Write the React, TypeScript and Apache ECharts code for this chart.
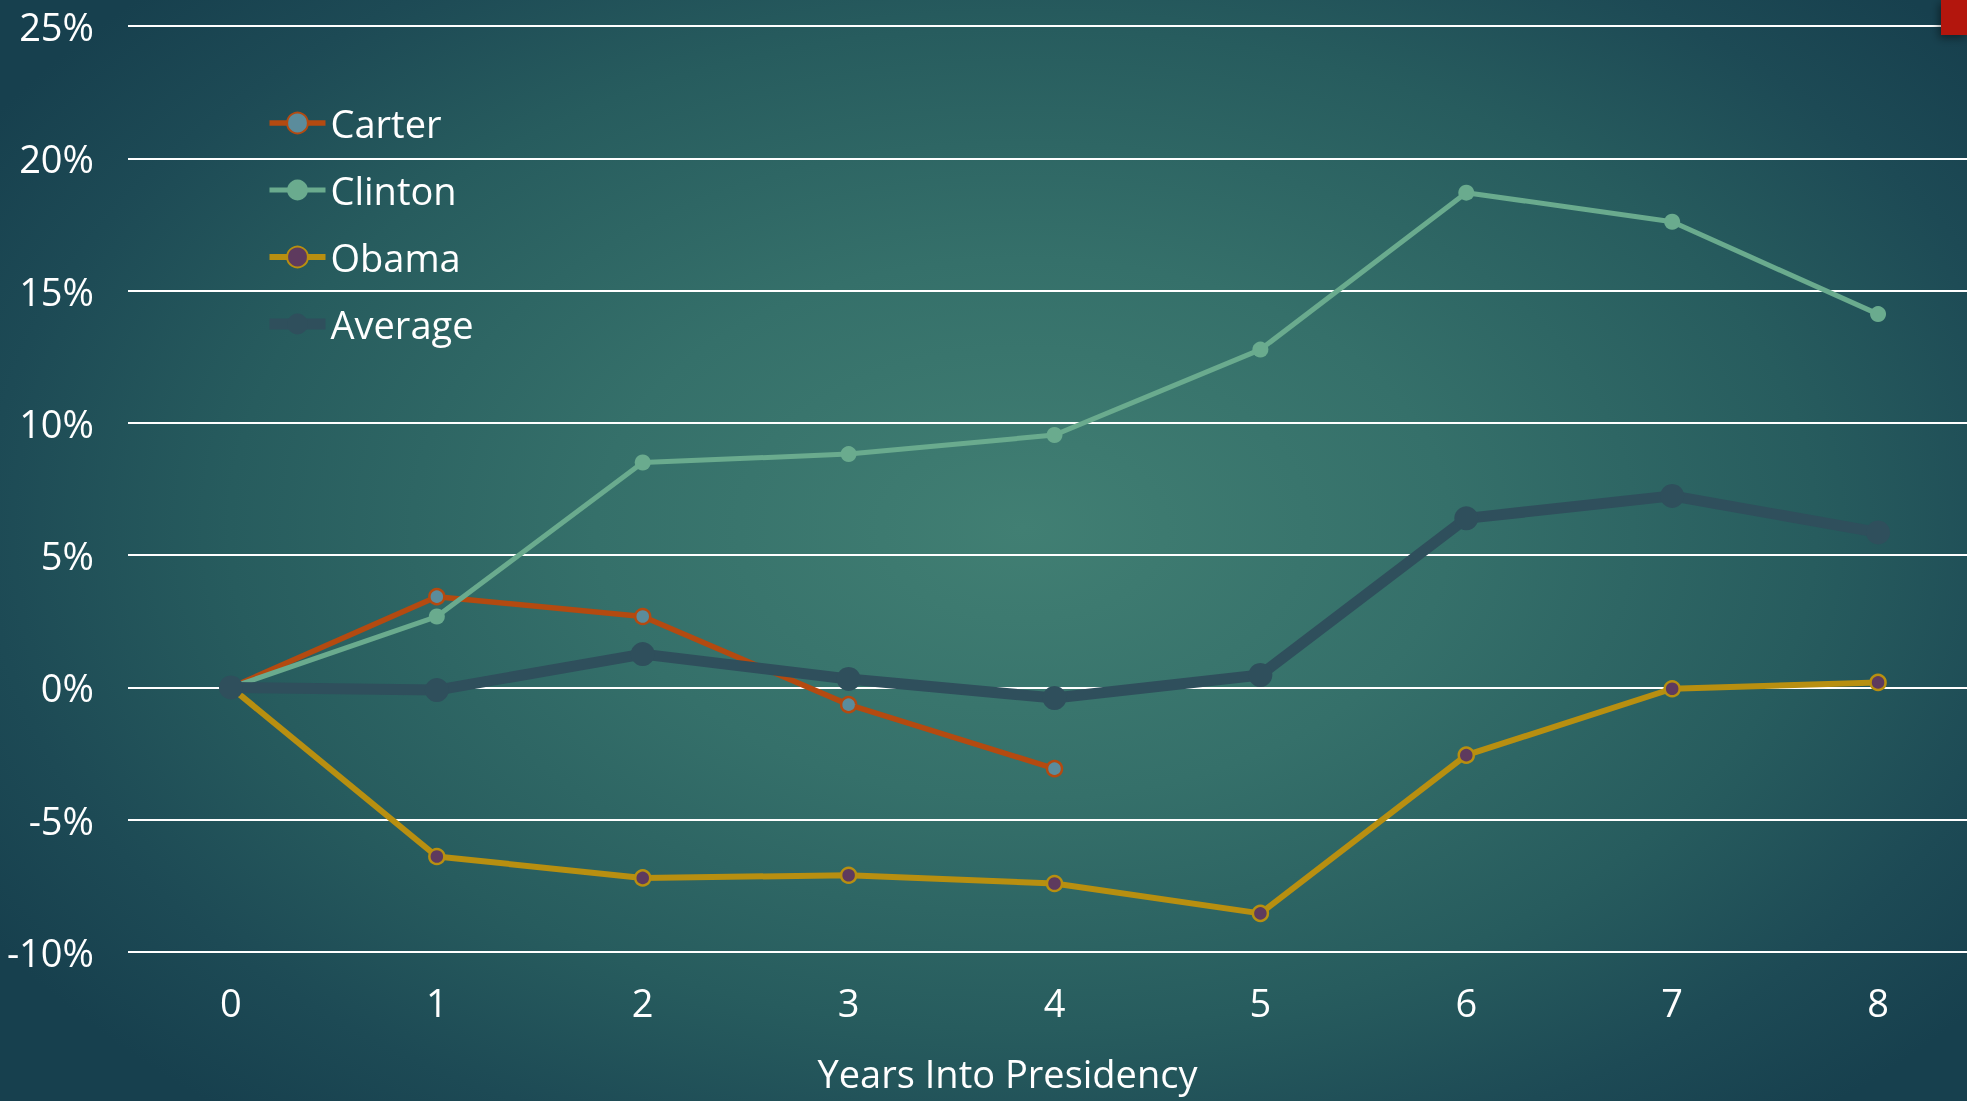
import React, { useEffect, useRef } from "react";
import * as echarts from "echarts";

// Years into presidency
const years = ["0", "1", "2", "3", "4", "5", "6", "7", "8"];

// Cumulative change (%) by year in office
const carter = [0, 3.43, 2.68, -0.65, -3.07];
const clinton = [0, 2.68, 8.5, 8.82, 9.54, 12.77, 18.7, 17.6, 14.11];
const obama = [0, -6.39, -7.2, -7.1, -7.41, -8.54, -2.56, -0.05, 0.19];
const average = [0, -0.1, 1.26, 0.32, -0.4, 0.47, 6.39, 7.24, 5.86];

const yMin = -10;
const yMax = 25;
const yStep = 5;

const FONT = "'Open Sans', Lato, sans-serif";
const FONT_SIZE = 38;

type Look = {
  color: string;
  width: number;
  fill: string;
  size: number;
  border: number;
};

const looks: Record<string, Look> = {
  Carter: { color: "#b44a10", width: 5.5, fill: "#5b8c9c", size: 15, border: 2.5 },
  Clinton: { color: "#6aab8e", width: 5, fill: "#6aab8e", size: 16, border: 0 },
  Obama: { color: "#b88f10", width: 6, fill: "#5e3a5e", size: 15, border: 2.5 },
  Average: { color: "#2f4f5c", width: 11, fill: "#2f4f5c", size: 24, border: 0 },
};

export default function App() {
  const ref = useRef<HTMLDivElement>(null);

  useEffect(() => {
    document.body.style.margin = "0";
    if (!ref.current) return;
    const chart = echarts.init(ref.current, undefined, { renderer: "svg" });

    const lineSeries = (name: string, data: number[]) => {
      const l = looks[name];
      return {
        name,
        type: "line",
        data,
        symbol: "circle",
        symbolSize: l.size,
        showAllSymbol: true,
        lineStyle: { color: l.color, width: l.width },
        itemStyle: { color: l.fill, borderColor: l.color, borderWidth: l.border },
        emphasis: { disabled: true },
      };
    };

    const legendNames = ["Carter", "Clinton", "Obama", "Average"];

    chart.setOption({
      animation: false,
      backgroundColor: "transparent",
      textStyle: { fontFamily: FONT },
      grid: {
        left: 128,
        top: 26,
        width: 1853,
        bottom: 149,
        containLabel: false,
        outerBoundsMode: "none",
      },
      legend: {
        orient: "vertical",
        left: 259,
        top: 98,
        itemWidth: 56,
        itemHeight: 26,
        itemGap: 27,
        textStyle: {
          color: "#ffffff",
          fontSize: FONT_SIZE,
          fontFamily: FONT,
          lineHeight: 40,
        },
        data: legendNames.map((n) => ({
          name: n,
          lineStyle: { width: looks[n].width, color: looks[n].color },
        })),
      },
      xAxis: {
        type: "category",
        data: years,
        boundaryGap: true,
        axisLine: { show: false },
        axisTick: { show: false },
        axisLabel: { color: "#ffffff", fontSize: FONT_SIZE, margin: 30.5, fontFamily: FONT },
        name: "Years Into Presidency",
        nameLocation: "middle",
        nameGap: 99,
        nameTextStyle: {
          color: "#ffffff",
          fontSize: FONT_SIZE,
          fontFamily: FONT,
          lineHeight: 44,
          padding: [0, 94, 0, 0],
        },
      },
      yAxis: {
        type: "value",
        min: yMin,
        max: yMax,
        interval: yStep,
        axisLine: { show: false },
        axisTick: { show: false },
        axisLabel: {
          color: "#ffffff",
          fontSize: FONT_SIZE,
          margin: 34,
          fontFamily: FONT,
          formatter: "{value}%",
        },
        splitLine: { show: true, lineStyle: { color: "#ffffff", width: 2 } },
      },
      graphic: [
        {
          type: "rect",
          right: 0,
          top: 0,
          shape: { width: 26, height: 35 },
          style: {
            fill: "#b3170f",
            shadowBlur: 8,
            shadowColor: "rgba(0,0,0,0.45)",
            shadowOffsetX: -2,
            shadowOffsetY: 3,
          },
          z: 100,
        },
      ],
      series: [
        lineSeries("Carter", carter),
        lineSeries("Clinton", clinton),
        lineSeries("Obama", obama),
        lineSeries("Average", average),
      ],
    });

    return () => chart.dispose();
  }, []);

  return (
    <div
      ref={ref}
      style={{
        position: "fixed",
        left: 0,
        top: 0,
        width: 1967,
        height: 1101,
        overflow: "hidden",
        background:
          "radial-gradient(ellipse 62% 70% at 52% 48%, #417f73 0%, #35706a 35%, #275c5e 65%, #1d4a55 85%, #17404e 100%)",
      }}
    />
  );
}
